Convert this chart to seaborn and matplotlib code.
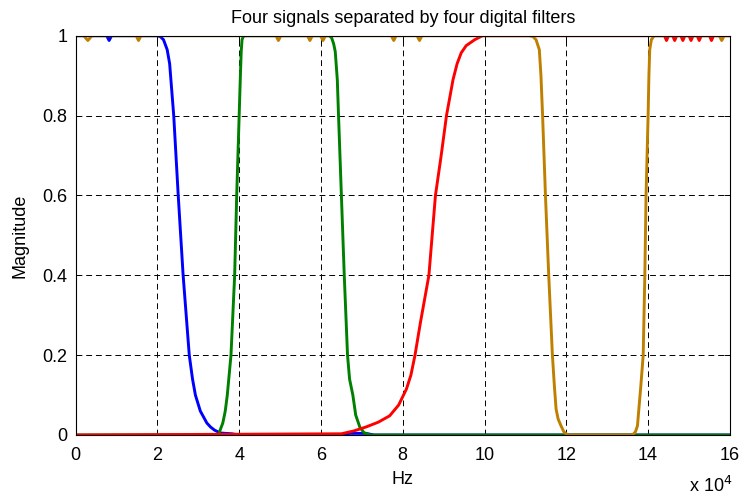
import numpy as np
import pandas as pd
import matplotlib
matplotlib.use("Agg")
import matplotlib.pyplot as plt
import seaborn as sns
from matplotlib.ticker import FuncFormatter, MultipleLocator

# --- filter magnitude responses (frequency in Hz) ---
blue_f = [0, 7600, 8200, 8800, 20000, 20800, 21500, 22400, 23000, 24000, 25100,
          26300, 27800, 28600, 29300, 30500, 31300, 32100, 33000, 34000, 35400, 38200, 40000,
          65000, 67000, 71000, 73000, 160000]
blue_m = [1, 1, 0.988, 1, 1, 0.997, 0.99, 0.965, 0.93, 0.8, 0.6,
          0.4, 0.2, 0.14, 0.1, 0.06, 0.045, 0.03, 0.02, 0.012, 0.005, 0.003, 0,
          0, 0.004, 0.004, 0, 0]

green_f = [0, 34900, 36000, 36600, 37100, 38000, 38900, 39400, 40000, 40300, 40500,
           40700, 41000, 41500, 62000, 62600, 63100, 63500, 64000, 64300, 65000,
           65700, 66500, 67000, 67800, 68500, 69500, 70500, 72000, 160000]
green_m = [0, 0, 0.03, 0.06, 0.1, 0.2, 0.4, 0.6, 0.8, 0.9, 0.96,
           0.99, 0.998, 1, 1, 0.995, 0.98, 0.96, 0.89, 0.8, 0.6,
           0.4, 0.2, 0.14, 0.1, 0.05, 0.02, 0.006, 0, 0]

red_f = [0, 65000, 68000, 71000, 74000, 76800, 79000, 80900, 82000, 83000, 84300,
         86400, 87200, 88000, 89400, 90700, 92300, 93300, 94300, 95500, 97600, 99500,
         144000, 144500, 145000, 146000, 146500, 147000, 148000, 148500, 149000,
         150000, 150500, 151000, 152000, 152500, 153000, 155000, 155500, 156000, 160000]
red_m = [0, 0.003, 0.01, 0.02, 0.032, 0.048, 0.075, 0.115, 0.15, 0.2, 0.28,
         0.4, 0.5, 0.6, 0.7, 0.8, 0.89, 0.93, 0.957, 0.975, 0.99, 1,
         1, 0.988, 1, 1, 0.988, 1, 1, 0.988, 1,
         1, 0.988, 1, 1, 0.988, 1, 1, 0.988, 1, 1]

orange_f = [0, 2000, 3000, 4000, 14800, 15400, 16000, 49000, 49600, 50200,
            56700, 57300, 57900, 59900, 60500, 61100, 77200, 77800, 78400,
            83500, 84100, 84700, 111000, 111800, 112600, 113400, 113800, 114200,
            114900, 115700, 116600, 117100, 117500, 118000, 118700, 119400, 120300,
            136200, 136900, 137400, 137700, 138200, 138800, 139200, 139500, 140000,
            140200, 140400, 140800, 141500, 157400, 158000, 158600, 160000]
orange_m = [1, 1, 0.988, 1, 1, 0.988, 1, 1, 0.988, 1,
            1, 0.988, 1, 1, 0.988, 1, 1, 0.988, 1,
            1, 0.988, 1, 1, 0.998, 0.99, 0.965, 0.9, 0.8,
            0.6, 0.4, 0.2, 0.12, 0.065, 0.04, 0.023, 0.008, 0,
            0, 0.008, 0.023, 0.06, 0.12, 0.2, 0.4, 0.6, 0.8,
            0.9, 0.965, 0.99, 1, 1, 0.988, 1, 1]

series = [
    (blue_f, blue_m, "#0000FF"),
    (green_f, green_m, "#008000"),
    (red_f, red_m, "#FF0000"),
    (orange_f, orange_m, "#BF8000"),
]

sns.set_style("white")
plt.rcParams['font.family'] = ['Liberation Sans', 'DejaVu Sans']
plt.rcParams['text.color'] = 'black'
plt.rcParams['axes.labelcolor'] = 'black'
FS = 13

fig = plt.figure(figsize=(7.41, 4.96), dpi=100)
ax = fig.add_axes([0.102, 0.123, 0.883, 0.805])

for f, m, c in series:
    df = pd.DataFrame({"f": f, "m": m})
    sns.lineplot(data=df, x="f", y="m", ax=ax, color=c, lw=2.1,
                 sort=False, estimator=None, solid_joinstyle="round",
                 solid_capstyle="round")

ax.set_xlim(0, 160000)
ax.set_ylim(0, 1)
ax.xaxis.set_major_locator(MultipleLocator(20000))
ax.yaxis.set_major_locator(MultipleLocator(0.2))
ax.xaxis.set_major_formatter(FuncFormatter(lambda v, p: f"{v / 1e4:g}"))
ax.yaxis.set_major_formatter(FuncFormatter(lambda v, p: f"{v:g}"))

ax.grid(True, color="black", linestyle=(0, (6, 4)), linewidth=0.7)
ax.set_axisbelow(True)
for s in ax.spines.values():
    s.set_color("black")
    s.set_linewidth(0.8)
ax.tick_params(direction="in", length=4, width=0.7, top=True, right=True,
               labelsize=FS, colors="black", pad=6)
ax.tick_params(axis="x", pad=9)

ax.set_title("Four signals separated by four digital filters", fontsize=FS, pad=9,
             color="black")
ax.set_xlabel("Hz", fontsize=FS, labelpad=5, color="black")
ax.set_ylabel("Magnitude", fontsize=FS, labelpad=10, color="black")
fig.text(0.988, 0.0, r"x 10$^{4}$", ha="right", va="bottom", fontsize=FS, color="black")

fig.savefig("out.png", dpi=100)
